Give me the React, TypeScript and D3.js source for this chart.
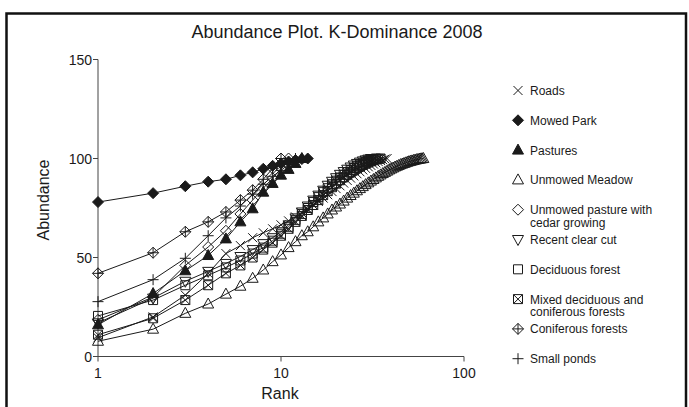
import React from "react";
import * as d3 from "d3";

const title = "Abundance Plot. K-Dominance 2008";
const xTicks = [1, 10, 100];
const yTicks = [0, 50, 100, 150];

const roads = [9.5, 20, 31, 42, 52, 56, 60, 62.5, 64.5, 66.5, 68.5, 70.5, 72.5, 74.5, 76.5, 78.3, 80, 81.7, 83.3, 84.8, 86.2, 87.6, 88.9, 90.1, 91.2, 92.3, 93.3, 94.2, 95, 95.8, 96.5, 97.2, 97.8, 98.4, 98.9, 99.3, 99.7, 100];
const mowedPark = [78, 82.5, 86, 88.3, 89.5, 91.5, 93, 94.8, 96.3, 97.4, 98.5, 99.2, 99.7, 100];
const pastures = [16, 31.8, 43.3, 51, 59.4, 68, 74.6, 83, 87.4, 91.6, 94.5, 97.5, 100];
const unmowedMeadow = [7.7, 13.8, 21.8, 26.5, 31.5, 35.5, 39.5, 43.7, 47.9, 51.3, 55, 58, 61, 63, 65.5, 68, 70, 72, 74, 75.5, 77, 78.5, 80, 81.3, 82.5, 83.7, 84.8, 85.8, 86.8, 87.7, 88.6, 89.4, 90.2, 91, 91.7, 92.4, 93, 93.6, 94.2, 94.7, 95.2, 95.7, 96.1, 96.5, 96.9, 97.2, 97.5, 97.8, 98.1, 98.4, 98.6, 98.8, 99, 99.2, 99.4, 99.5, 99.7, 99.8, 99.9, 100];
const unmowedPasture = [18.5, 30, 46, 55.3, 63.5, 72, 79, 85, 90, 95, 100];
const recentClearCut = [17, 29.5, 38, 43, 47, 50.5, 54, 57, 60, 63, 66.5, 70, 73, 76, 79, 81.5, 84, 86.5, 88.5, 90.3, 92, 93.4, 94.6, 95.7, 96.7, 97.5, 98.2, 98.8, 99.3, 99.7, 100];
const deciduous = [20.5, 28.5, 36, 41, 45, 48.5, 52, 55, 58.5, 62, 65.5, 69, 72, 75, 78, 80.5, 83, 85, 87, 88.8, 90.4, 91.8, 93, 94.2, 95.2, 96.1, 96.9, 97.6, 98.2, 98.8, 99.3, 99.7, 100];
const mixed = [11, 19.3, 28.5, 36, 42, 46, 50, 54, 57.5, 61, 64.5, 68, 71, 74, 76.5, 79, 81.5, 83.5, 85.5, 87.3, 89, 90.5, 91.8, 93, 94, 95, 95.9, 96.7, 97.4, 98, 98.6, 99.1, 99.5, 99.8, 100];
const coniferous = [42, 52.4, 63, 68, 73, 79, 84, 89.5, 95, 100];
const smallPonds = [27.7, 38.8, 49.6, 61, 70, 76, 82, 87, 91, 94, 97, 100];

const seriesNames = ["Roads", "Mowed Park", "Pastures", "Unmowed Meadow", "Unmowed pasture with|cedar growing", "Recent clear cut", "Deciduous forest", "Mixed deciduous and|coniferous forests", "Coniferous forests", "Small ponds"];
const seriesValues = [roads, mowedPark, pastures, unmowedMeadow, unmowedPasture, recentClearCut, deciduous, mixed, coniferous, smallPonds];
const seriesShapes = ["cross", "diamondFill", "triUpFill", "triUp", "diamond", "triDown", "square", "squareX", "diamondPlus", "plus"];

const INK = "#1a1a1a";

function Marker({ shape, x, y }: { shape: string; x: number; y: number }) {
  const t = `translate(${x},${y})`;
  const common = { stroke: INK, strokeWidth: 1, fill: "none" } as any;
  switch (shape) {
    case "cross":
      return <path transform={t} d="M-4.5,-4.5L4.5,4.5M-4.5,4.5L4.5,-4.5" {...common} />;
    case "diamondFill":
      return <path transform={t} d="M0,-5.5L5.5,0L0,5.5L-5.5,0Z" stroke={INK} fill={INK} strokeWidth={1} />;
    case "diamond":
      return <path transform={t} d="M0,-5.5L5.5,0L0,5.5L-5.5,0Z" {...common} />;
    case "diamondPlus":
      return <path transform={t} d="M0,-5.5L5.5,0L0,5.5L-5.5,0ZM-5.5,0H5.5M0,-5.5V5.5" {...common} />;
    case "triUpFill":
      return <path transform={t} d="M0,-6L5.5,4L-5.5,4Z" stroke={INK} fill={INK} strokeWidth={1} />;
    case "triUp":
      return <path transform={t} d="M0,-6L5.5,4L-5.5,4Z" {...common} />;
    case "triDown":
      return <path transform={t} d="M0,6L5.5,-4L-5.5,-4Z" {...common} />;
    case "square":
      return <path transform={t} d="M-4.5,-4.5H4.5V4.5H-4.5Z" {...common} />;
    case "squareX":
      return <path transform={t} d="M-4.5,-4.5H4.5V4.5H-4.5ZM-4.5,-4.5L4.5,4.5M-4.5,4.5L4.5,-4.5" {...common} />;
    case "plus":
    default:
      return <path transform={t} d="M-5.5,0H5.5M0,-5.5V5.5" {...common} />;
  }
}

export default function App() {
  const W = 689, H = 407;
  const x = d3.scaleLog().domain([1, 100]).range([98, 464]);
  const y = d3.scaleLinear().domain([0, 150]).range([356.5, 59.5]);
  const line = d3.line<number>().x((_, i) => x(i + 1)).y((d) => y(d));
  const font = "'Liberation Sans', Arial, sans-serif";
  const drawOrder = [3, 0, 5, 6, 7, 9, 4, 2, 8, 1];
  const legendY0 = 90.5;
  const legendStep = 29.8;

  return (
    <svg width={W} height={H} style={{ position: "absolute", left: 0, top: 0, background: "#fff" }} fontFamily={font}>
      <rect x={0} y={0} width={W} height={H} fill="#fff" />
      <rect x={6.5} y={13.5} width={679.5} height={420} fill="none" stroke="#111" strokeWidth={2.5} />
      <text x={337} y={38} textAnchor="middle" fontSize={18} fill={INK}>{title}</text>

      {/* axes */}
      <line x1={x(1)} x2={x(100)} y1={y(0)} y2={y(0)} stroke="#444" strokeWidth={1} />
      <line x1={x(1)} x2={x(1)} y1={y(0)} y2={y(150)} stroke="#444" strokeWidth={1} />
      {yTicks.map((v) => (
        <g key={"y" + v}>
          <line x1={x(1) - 5} x2={x(1)} y1={y(v)} y2={y(v)} stroke="#444" />
          <text x={x(1) - 6} y={y(v) + 5} textAnchor="end" fontSize={14} fill={INK}>{v}</text>
        </g>
      ))}
      {xTicks.map((v) => (
        <g key={"x" + v}>
          <line x1={x(v)} x2={x(v)} y1={y(0)} y2={y(0) + 5} stroke="#444" />
          <text x={x(v)} y={y(0) + 21} textAnchor="middle" fontSize={14} fill={INK}>{v}</text>
        </g>
      ))}
      <text x={280} y={399} textAnchor="middle" fontSize={16} fill={INK}>Rank</text>
      <text transform={`translate(49,200) rotate(-90)`} textAnchor="middle" fontSize={16} fill={INK}>Abundance</text>

      {/* series */}
      {drawOrder.map((si) => (
        <g key={"s" + si}>
          <path d={line(seriesValues[si]) || ""} fill="none" stroke={INK} strokeWidth={1} />
          {seriesValues[si].map((v, i) => (
            <Marker key={i} shape={seriesShapes[si]} x={x(i + 1)} y={y(v)} />
          ))}
        </g>
      ))}

      {/* legend */}
      {seriesNames.map((name, i) => {
        const ly = legendY0 + i * legendStep;
        const lines = name.split("|");
        return (
          <g key={"l" + i}>
            <Marker shape={seriesShapes[i]} x={518} y={ly} />
            <text x={530} y={ly + 4.5} fontSize={12} fill={INK}>
              {lines.map((ln, j) => (
                <tspan key={j} x={530} dy={j === 0 ? 0 : 12.5}>{ln}</tspan>
              ))}
            </text>
          </g>
        );
      })}
    </svg>
  );
}
